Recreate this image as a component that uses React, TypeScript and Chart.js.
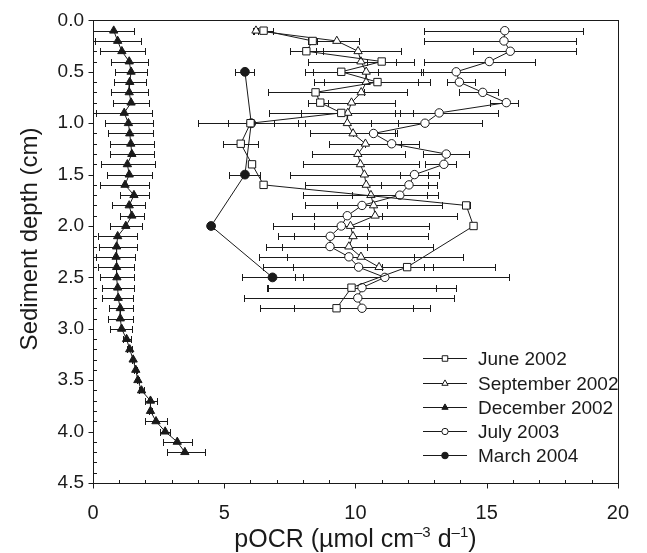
import React, { useEffect, useRef } from 'react';
import { Chart, registerables } from 'chart.js';
import { drawPoint } from 'chart.js/helpers';

Chart.register(...registerables);

const FONT = "'Liberation Sans', Arial, Helvetica, sans-serif";

// Axis ticks
const xTickValues = [0, 5, 10, 15, 20];
const yTickValues = [0, 0.5, 1.0, 1.5, 2.0, 2.5, 3.0, 3.5, 4.0, 4.5];
const yTickLabels = ['0.0', '0.5', '1.0', '1.5', '2.0', '2.5', '3.0', '3.5', '4.0', '4.5'];
const xMinorStep = 1;
const yMinorStep = 0.1;

const seriesLabels = ['June 2002', 'September 2002', 'December 2002', 'July 2003', 'March 2004'];

// June 2002 (open squares)
const juneDepth = [0.1, 0.2, 0.3, 0.4, 0.5, 0.6, 0.7, 0.8, 0.9, 1.0, 1.2, 1.4, 1.6, 1.8, 2.0, 2.4, 2.6, 2.8];
const juneX = [6.5, 8.37, 8.13, 11.0, 9.46, 10.84, 8.48, 8.66, 9.46, 6.0, 5.63, 6.06, 6.5, 14.22, 14.5, 11.97, 9.85, 9.28];
const juneLo = [6.15, 8.2, 7.5, 10.44, 8.06, 8.81, 6.65, 8.21, 6.71, 5.15, 4.94, 5.95, 6.4, 14.1, 14.4, 11.0, 6.63, 6.35];
const juneHi = [6.85, 8.55, 8.76, 11.56, 10.85, 12.85, 10.31, 8.94, 12.19, 6.88, 6.29, 6.17, 6.6, 14.35, 14.6, 12.94, 13.07, 12.2];

// September 2002 (open triangles)
const septDepth = [0.1, 0.2, 0.3, 0.4, 0.5, 0.6, 0.7, 0.8, 0.9, 1.0, 1.1, 1.2, 1.3, 1.4, 1.5, 1.6, 1.7, 1.8, 1.9, 2.0, 2.1, 2.2, 2.3, 2.4];
const septX = [6.21, 9.29, 10.1, 10.21, 10.41, 10.41, 10.22, 9.85, 9.71, 9.69, 9.91, 10.38, 10.09, 10.19, 10.34, 10.41, 10.59, 10.69, 10.75, 9.81, 9.91, 9.75, 10.21, 10.9];
const septLo = [6.1, 8.46, 8.5, 8.21, 8.37, 8.41, 8.47, 8.21, 7.91, 7.81, 8.25, 9.0, 8.35, 8.0, 7.5, 8.06, 8.0, 8.07, 7.6, 6.85, 7.06, 6.6, 6.32, 6.48];
const septHi = [6.3, 10.12, 11.75, 12.25, 12.56, 12.37, 11.97, 11.5, 11.5, 11.63, 11.6, 11.75, 11.88, 12.44, 13.18, 12.76, 13.16, 13.31, 13.87, 12.81, 12.75, 12.94, 14.1, 15.31];

// December 2002 (filled triangles)
const decDepth = [0.1, 0.2, 0.3, 0.4, 0.5, 0.6, 0.7, 0.8, 0.9, 1.0, 1.1, 1.2, 1.3, 1.4, 1.5, 1.6, 1.7, 1.8, 1.9, 2.0, 2.1, 2.2, 2.3, 2.4, 2.5, 2.6, 2.7, 2.8, 2.9, 3.0, 3.1, 3.2, 3.3, 3.4, 3.5, 3.6, 3.7, 3.8, 3.9, 4.0, 4.1, 4.2];
const decX = [0.79, 0.94, 1.10, 1.38, 1.45, 1.40, 1.38, 1.45, 1.19, 1.35, 1.40, 1.44, 1.48, 1.31, 1.38, 1.22, 1.56, 1.38, 1.48, 1.25, 0.94, 0.90, 0.88, 0.90, 0.91, 0.94, 0.96, 1.04, 1.04, 1.09, 1.28, 1.40, 1.53, 1.63, 1.71, 1.85, 2.19, 2.19, 2.4, 2.75, 3.21, 3.5];
const decLo = [0, 0.06, 0.25, 0.69, 0.85, 0.79, 0.69, 0.75, 0.13, 0.44, 0.59, 0.63, 0.66, 0.29, 0.54, 0.28, 1.03, 0.73, 1.04, 0.63, 0.19, 0.21, 0.1, 0.19, 0.28, 0.35, 0.35, 0.6, 0.56, 0.66, 1.13, 1.3, 1.48, 1.58, 1.66, 1.75, 2.0, 2.14, 2.0, 2.56, 2.65, 2.81];
const decHi = [1.56, 1.84, 2.0, 2.09, 2.06, 2.03, 2.09, 2.13, 2.25, 2.29, 2.29, 2.31, 2.34, 2.38, 2.23, 2.13, 2.13, 2.0, 1.94, 1.85, 1.66, 1.66, 1.6, 1.56, 1.56, 1.56, 1.53, 1.53, 1.53, 1.5, 1.46, 1.5, 1.58, 1.68, 1.76, 1.95, 2.44, 2.24, 2.81, 2.94, 3.78, 4.25];

// July 2003 (open circles)
const julyDepth = [0.1, 0.2, 0.3, 0.4, 0.5, 0.6, 0.7, 0.8, 0.9, 1.0, 1.1, 1.2, 1.3, 1.4, 1.5, 1.6, 1.7, 1.8, 1.9, 2.0, 2.1, 2.2, 2.3, 2.4, 2.5, 2.6, 2.7, 2.8];
const julyX = [15.69, 15.66, 15.9, 15.1, 13.84, 13.96, 14.85, 15.75, 13.19, 12.65, 10.69, 11.38, 13.46, 13.37, 12.25, 12.04, 11.69, 10.25, 9.69, 9.46, 9.04, 9.03, 9.75, 10.12, 11.12, 10.25, 10.09, 10.25];
const julyLo = [12.62, 12.62, 14.47, 12.62, 12.5, 13.47, 13.96, 15.12, 11.7, 10.6, 9.9, 10.35, 12.58, 12.65, 11.71, 10.96, 9.85, 9.31, 8.41, 8.41, 7.65, 7.19, 7.38, 7.63, 7.71, 6.66, 5.75, 7.65];
const julyHi = [18.69, 18.41, 18.4, 16.84, 15.69, 14.56, 15.44, 16.21, 15.44, 14.81, 11.5, 12.41, 14.34, 13.85, 12.78, 13.12, 12.71, 11.2, 11.0, 10.5, 10.43, 10.44, 12.22, 12.61, 15.85, 13.84, 13.75, 12.85];

// March 2004 (filled circles)
const marchDepth = [0.5, 1.0, 1.5, 2.0, 2.5];
const marchX = [5.79, 6.03, 5.79, 4.5, 6.84];
const marchLo = [5.41, 4.0, 5.19, 4.4, 5.69];
const marchHi = [6.13, 8.06, 6.38, 4.6, 7.99];

const INK = '#1a1a1a';

function makeSet(label: string, depth: number[], xs: number[], lo: number[], hi: number[], style: string, fill: string, radius: number) {
  return {
    label,
    data: depth.map((d, i) => ({ x: xs[i], y: d })),
    errLo: lo,
    errHi: hi,
    showLine: true,
    borderColor: INK,
    borderWidth: 1,
    pointStyle: style,
    pointRadius: radius,
    pointBackgroundColor: fill,
    pointBorderColor: INK,
    pointBorderWidth: 1,
    legendRadius: radius * 0.75,
  };
}

const errorBarPlugin = {
  id: 'errorBars',
  beforeDatasetsDraw(chart: any) {
    const { ctx } = chart;
    const xs = chart.scales.x;
    const ys = chart.scales.y;
    ctx.save();
    ctx.strokeStyle = INK;
    ctx.lineWidth = 1;
    chart.data.datasets.forEach((ds: any) => {
      ds.data.forEach((p: any, i: number) => {
        const py = Math.round(ys.getPixelForValue(p.y)) + 0.5;
        const x0 = Math.round(xs.getPixelForValue(ds.errLo[i])) + 0.5;
        const x1 = Math.round(xs.getPixelForValue(ds.errHi[i])) + 0.5;
        const cap = 3.5;
        ctx.beginPath();
        ctx.moveTo(x0, py);
        ctx.lineTo(x1, py);
        ctx.moveTo(x0, py - cap);
        ctx.lineTo(x0, py + cap);
        ctx.moveTo(x1, py - cap);
        ctx.lineTo(x1, py + cap);
        ctx.stroke();
      });
    });
    ctx.restore();
  },
};

const framePlugin = {
  id: 'frame',
  afterDraw(chart: any) {
    const { ctx, chartArea: a } = chart;
    const xs = chart.scales.x;
    const ys = chart.scales.y;
    ctx.save();
    ctx.strokeStyle = INK;
    ctx.lineWidth = 1;
    const L = Math.round(a.left) + 0.5;
    const R = Math.round(a.right) + 0.5;
    const T = Math.round(a.top) + 0.5;
    const B = Math.round(a.bottom) + 0.5;
    ctx.strokeRect(L, T, R - L, B - T);
    ctx.beginPath();
    for (let v = xs.min; v <= xs.max + 1e-9; v += xMinorStep) {
      const px = Math.round(xs.getPixelForValue(v)) + 0.5;
      const major = xTickValues.some((t) => Math.abs(t - v) < 1e-6);
      if (major) {
        ctx.moveTo(px, B);
        ctx.lineTo(px, B + 5);
      } else {
        ctx.moveTo(px, B);
        ctx.lineTo(px, B - 3.5);
      }
    }
    for (let k = 0; k * yMinorStep <= ys.max + 1e-9; k++) {
      const v = k * yMinorStep;
      const py = Math.round(ys.getPixelForValue(v)) + 0.5;
      const major = yTickValues.some((t) => Math.abs(t - v) < 1e-6);
      if (major) {
        ctx.moveTo(L, py);
        ctx.lineTo(L - 5, py);
      } else {
        ctx.moveTo(L, py);
        ctx.lineTo(L + 3.5, py);
      }
    }
    ctx.stroke();

    // axis titles
    ctx.fillStyle = INK;
    ctx.textBaseline = 'alphabetic';
    const size = 25;
    const sup = 15;
    const parts: [string, boolean][] = [['pOCR (µmol cm', false], ['–3', true], [' d', false], ['–1', true], [')', false]];
    let total = 0;
    parts.forEach(([t, s]) => {
      ctx.font = `${s ? sup : size}px ${FONT}`;
      total += ctx.measureText(t).width;
    });
    let cx = (a.left + a.right) / 2 - total / 2;
    const baseY = 547;
    parts.forEach(([t, s]) => {
      ctx.font = `${s ? sup : size}px ${FONT}`;
      ctx.fillText(t, cx, s ? baseY - 10 : baseY);
      cx += ctx.measureText(t).width;
    });

    ctx.save();
    ctx.translate(37, 239);
    ctx.rotate(-Math.PI / 2);
    ctx.font = `24px ${FONT}`;
    ctx.textAlign = 'center';
    ctx.fillText('Sediment depth (cm)', 0, 0);
    ctx.restore();

    // legend
    const lx0 = a.left + 330;
    const lx1 = a.left + 374;
    const ly0 = a.top + 338;
    const step = 24.2;
    ctx.font = `19px ${FONT}`;
    ctx.textAlign = 'left';
    ctx.textBaseline = 'middle';
    chart.data.datasets.forEach((ds: any, i: number) => {
      const y = Math.round(ly0 + i * step) + 0.5;
      ctx.strokeStyle = INK;
      ctx.lineWidth = 1;
      ctx.beginPath();
      ctx.moveTo(lx0, y);
      ctx.lineTo(lx1, y);
      ctx.stroke();
      ctx.fillStyle = ds.pointBackgroundColor;
      ctx.strokeStyle = INK;
      drawPoint(ctx, { pointStyle: ds.pointStyle, radius: ds.legendRadius, borderWidth: 1, rotation: 0 } as any, (lx0 + lx1) / 2, y);
      ctx.fillStyle = INK;
      ctx.fillText(ds.label, lx1 + 11, y + 1);
    });
    ctx.restore();
  },
};

export default function App() {
  const ref = useRef<HTMLCanvasElement | null>(null);
  useEffect(() => {
    if (!ref.current) return;
    const chart = new Chart(ref.current, {
      type: 'scatter',
      data: {
        datasets: [
          makeSet(seriesLabels[0], juneDepth, juneX, juneLo, juneHi, 'rect', '#ffffff', 5.2),
          makeSet(seriesLabels[1], septDepth, septX, septLo, septHi, 'triangle', '#ffffff', 4.8),
          makeSet(seriesLabels[2], decDepth, decX, decLo, decHi, 'triangle', INK, 4.8),
          makeSet(seriesLabels[3], julyDepth, julyX, julyLo, julyHi, 'circle', '#ffffff', 4.2),
          makeSet(seriesLabels[4], marchDepth, marchX, marchLo, marchHi, 'circle', INK, 4.4),
        ] as any,
      },
      options: {
        animation: false,
        responsive: false,
        devicePixelRatio: 1,
        layout: { padding: { top: 19, right: 20, left: 0, bottom: 0 } },
        plugins: { legend: { display: false }, tooltip: { enabled: false } },
        scales: {
          x: {
            type: 'linear',
            min: 0,
            max: 20,
            grid: { display: false, drawTicks: false },
            border: { display: false },
            afterBuildTicks: (s: any) => {
              s.ticks = xTickValues.map((v) => ({ value: v }));
            },
            ticks: { color: INK, font: { family: FONT, size: 20 }, padding: 18, maxRotation: 0 },
            afterFit: (s: any) => {
              s.height = 70;
            },
          },
          y: {
            type: 'linear',
            min: 0,
            max: 4.5,
            reverse: true,
            grid: { display: false, drawTicks: false },
            border: { display: false },
            afterBuildTicks: (s: any) => {
              s.ticks = yTickValues.map((v) => ({ value: v }));
            },
            ticks: {
              color: INK,
              font: { family: FONT, size: 19 },
              padding: 9,
              callback: (_v: any, i: number) => yTickLabels[i],
            },
            afterFit: (s: any) => {
              s.width = 93;
            },
          },
        },
      } as any,
      plugins: [errorBarPlugin, framePlugin],
    });
    return () => chart.destroy();
  }, []);
  return (
    <div style={{ position: 'absolute', left: 0, top: 0, width: 647, height: 553, background: '#fff' }}>
      <canvas ref={ref} width={647} height={553} style={{ display: 'block' }} />
    </div>
  );
}
